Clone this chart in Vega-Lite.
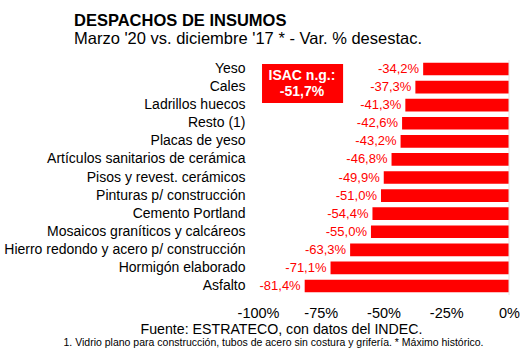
{
  "$schema": "https://vega.github.io/schema/vega-lite/v6.json",
  "width": 251,
  "height": 235,
  "autosize": {"type": "none"},
  "padding": {"left": 258, "top": 60, "right": 21, "bottom": 60},
  "background": "white",
  "config": {
    "font": "Liberation Sans",
    "view": {"stroke": null},
    "locale": {"number": {"decimal": ",", "thousands": ".", "grouping": [3], "currency": ["", " €"], "minus": "-"}}
  },
  "title": {
    "text": "DESPACHOS DE INSUMOS",
    "subtitle": "Marzo '20 vs. diciembre '17 * - Var. % desestac.",
    "anchor": "start",
    "frame": "group",
    "dx": -184,
    "fontSize": 16.5,
    "fontWeight": "bold",
    "color": "black",
    "subtitleFontSize": 16.5,
    "subtitleColor": "black",
    "subtitlePadding": 2,
    "offset": 12
  },
  "datasets": {
    "insumos": [
      {"insumo": "Yeso", "var": -0.342},
      {"insumo": "Cales", "var": -0.373},
      {"insumo": "Ladrillos huecos", "var": -0.413},
      {"insumo": "Resto (1)", "var": -0.426},
      {"insumo": "Placas de yeso", "var": -0.432},
      {"insumo": "Artículos sanitarios de cerámica", "var": -0.468},
      {"insumo": "Pisos y revest. cerámicos", "var": -0.499},
      {"insumo": "Pinturas p/ construcción", "var": -0.51},
      {"insumo": "Cemento Portland", "var": -0.544},
      {"insumo": "Mosaicos graníticos y calcáreos", "var": -0.55},
      {"insumo": "Hierro redondo y acero p/ construcción", "var": -0.633},
      {"insumo": "Hormigón elaborado", "var": -0.711},
      {"insumo": "Asfalto", "var": -0.814}
    ],
    "isac": [
      {"insumo": "Yeso", "x1": -0.984, "x2": -0.661, "xm": -0.825, "label": "ISAC n.g.:\n-51,7%"}
    ],
    "cero": [{"var": 0}]
  },
  "layer": [
    {
      "data": {"name": "insumos"},
      "mark": {"type": "bar", "color": "#ff0000"},
      "encoding": {
        "y": {
          "field": "insumo",
          "type": "nominal",
          "sort": null,
          "scale": {"paddingInner": 0.3, "paddingOuter": 0.15},
          "axis": {
            "title": "1. Vidrio plano para construcción, tubos de acero sin costura y grifería. * Máximo histórico.",
            "titleAngle": 0,
            "titleX": 15,
            "titleY": 285,
            "titleAlign": "center",
            "titleBaseline": "alphabetic",
            "titleFontSize": 10.5,
            "titleFontWeight": "normal",
            "titleColor": "black",
            "labelFontSize": 14,
            "labelColor": "black",
            "labelPadding": 13,
            "labelLimit": 320,
            "ticks": false,
            "domain": false
          }
        },
        "x": {
          "field": "var",
          "type": "quantitative",
          "scale": {"domain": [-1, 0], "nice": false},
          "axis": {
            "values": [-1, -0.75, -0.5, -0.25, 0],
            "format": ".0%",
            "labelFontSize": 14.5,
            "labelColor": "black",
            "labelFlush": false,
            "labelPadding": 11,
            "ticks": false,
            "domain": false,
            "grid": false,
            "title": "Fuente: ESTRATECO, con datos del INDEC.",
            "titleX": 23,
            "titleY": 38,
            "titleAlign": "center",
            "titleBaseline": "alphabetic",
            "titleFontSize": 14.2,
            "titleFontWeight": "normal",
            "titleColor": "black"
          }
        }
      }
    },
    {
      "data": {"name": "insumos"},
      "mark": {"type": "text", "align": "right", "baseline": "middle", "dx": -4, "fontSize": 13, "color": "#ff0000"},
      "encoding": {
        "y": {"field": "insumo", "type": "nominal", "sort": null},
        "x": {"field": "var", "type": "quantitative"},
        "text": {"field": "var", "type": "quantitative", "format": ".1%"}
      }
    },
    {
      "data": {"name": "cero"},
      "mark": {"type": "rule", "color": "#e2e2e2"},
      "encoding": {
        "x": {"field": "var", "type": "quantitative"}
      }
    },
    {
      "data": {"name": "isac"},
      "mark": {"type": "bar", "color": "#ff0000", "height": 39, "yOffset": 14.5},
      "encoding": {
        "y": {"field": "insumo", "type": "nominal", "sort": null},
        "x": {"field": "x1", "type": "quantitative"},
        "x2": {"field": "x2"}
      }
    },
    {
      "data": {"name": "isac"},
      "mark": {"type": "text", "align": "center", "baseline": "middle", "lineBreak": "\n", "lineHeight": 16, "yOffset": 7, "fontSize": 14, "fontWeight": "bold", "color": "white"},
      "encoding": {
        "y": {"field": "insumo", "type": "nominal", "sort": null},
        "x": {"field": "xm", "type": "quantitative"},
        "text": {"field": "label", "type": "nominal"}
      }
    }
  ]
}
